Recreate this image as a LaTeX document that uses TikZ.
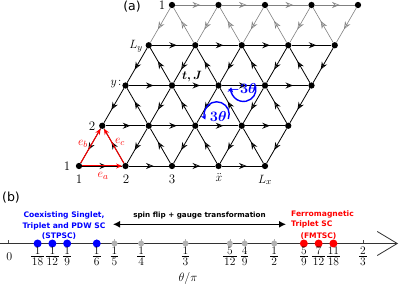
\documentclass[tikz,border=0pt]{standalone}
\usepackage{fontspec}
\usepackage{amsmath,bm}
\usetikzlibrary{arrows.meta,decorations.markings}
\newfontfamily\djs{DejaVu Sans}
\newcommand\fr[2]{{\renewcommand\arraystretch{0}\begin{tabular}{@{\hspace{1pt}}c@{\hspace{1pt}}}\rule[-1.3pt]{0pt}{7.6pt}#1\\\hline\rule{0pt}{9.1pt}#2\end{tabular}}}
\tikzset{
  ldot/.style={circle,fill=black,inner sep=0pt,minimum size=6.3pt},
  midarr/.style={postaction={decorate},decoration={markings,mark=at position 0.62 with {\arrow{Stealth[open,length=7.5pt,width=6pt,inset=2.5pt]}}}},
  latedge/.style={draw=black,line width=0.8pt,midarr},
  topedge/.style={draw=black!50,line width=0.6pt,midarr},
  redvec/.style={draw=red,line width=1pt,-{Stealth[length=6pt,width=5pt]}},
  lbl/.style={font=\fontsize{13}{15}\selectfont,inner sep=0pt},
  redlbl/.style={text=red,font=\fontsize{13}{15}\selectfont,inner sep=0pt},
  fluxarc/.style={draw=blue,line width=1.4pt,-{Stealth[length=5pt,width=5.5pt]}},
  fluxlbl/.style={text=blue,font=\fontsize{13.5}{15}\selectfont,inner sep=0pt},
  axisline/.style={draw=black!80,line width=0.8pt,-{Straight Barb[length=20pt,width=24pt,line width=0.8pt]}},
  tickst/.style={draw=black!70,line width=0.7pt},
  pdot/.style={circle,inner sep=0pt,minimum size=8pt},
  gdot/.style={circle,inner sep=0pt,minimum size=6pt,fill=black!30},
  bluetxt/.style={text=blue,font=\djs\bfseries\fontsize{7.6}{9}\selectfont,inner sep=0pt},
  redtxt/.style={text=red,font=\djs\bfseries\fontsize{7.6}{9}\selectfont,inner sep=0pt},
  blktxt/.style={text=black,font=\djs\bfseries\fontsize{7.2}{9}\selectfont,inner sep=0pt},
  dblarr/.style={draw=black,line width=1.3pt,{Latex[length=7pt,width=7pt]}-{Latex[length=7pt,width=7pt]}},
  paneltxt/.style={font=\djs\fontsize{12.5}{14}\selectfont,inner sep=0pt},
  fraclbl/.style={font=\fontsize{11.5}{13}\selectfont,inner sep=0pt,anchor=north}
}
\begin{document}
\begin{tikzpicture}[x=1pt,y=1pt]
\useasboundingbox (0,0) rectangle (399,-288);
% lattice nodes
\foreach \r in {0,...,4}{
  \foreach \c in {0,...,4}{
    \node[ldot] (n-\r-\c) at ({79+23.25*\r+46.5*\c},{-166+40.25*\r}) {};
  }
}
% horizontal edges
\foreach \r in {0,...,3}{
  \foreach \c [evaluate=\c as \cn using int(\c+1)] in {0,...,3}{
    \draw[latedge] (n-\r-\c) -- (n-\r-\cn);
  }
}
\foreach \c [evaluate=\c as \cn using int(\c+1)] in {0,...,3}{
  \draw[topedge] (n-4-\c) -- (n-4-\cn);
}
% "/" edges, pointing down-left
\foreach \r [evaluate=\r as \rn using int(\r+1)] in {0,...,2}{
  \foreach \c in {0,...,4}{
    \draw[latedge] (n-\rn-\c) -- (n-\r-\c);
  }
}
\foreach \c in {0,...,4}{
  \draw[topedge] (n-4-\c) -- (n-3-\c);
}
% "\" edges, pointing up-left
\foreach \r [evaluate=\r as \rn using int(\r+1)] in {0,...,2}{
  \foreach \c [evaluate=\c as \cp using int(\c-1)] in {1,...,4}{
    \draw[latedge] (n-\r-\c) -- (n-\rn-\cp);
  }
}
\foreach \c [evaluate=\c as \cp using int(\c-1)] in {1,...,4}{
  \draw[topedge] (n-3-\c) -- (n-4-\cp);
}
% red unit vectors
\draw[redvec] (n-0-0) -- (n-0-1);
\draw[redvec] (n-0-0) -- (n-1-0);
\draw[redvec] (n-0-1) -- (n-1-0);
\node[redlbl] (ea) at (103,-176) {$e_a$};
\node[redlbl] (eb) at (83,-144) {$e_b$};
\node[redlbl] (ec) at (120,-142) {$e_c$};
% lattice labels
\node[lbl] (b1) at (79,-179) {1};
\node[lbl] (b2) at (126,-179) {2};
\node[lbl] (b3) at (172,-179) {3};
\node[lbl] (bx) at (219,-178) {$\ddot{x}$};
\node[lbl] (bL) at (265,-180) {$L_x$};
\node[lbl] (l1) at (67,-166) {1};
\node[lbl] (l2) at (92,-126) {2};
\node[lbl] (ly) at (116,-84) {$y\!:$};
\node[lbl] (lL) at (136,-46) {$L_y$};
\node[lbl] (l5) at (162,-5) {1};
\node[lbl,font=\fontsize{12}{14}\selectfont] (tJ) at (192,-77) {$\boldsymbol{t,J}$};
% flux arcs
\coordinate (c1) at (216.7,-114.3);
\coordinate (c2) at (243.5,-89);
\draw[fluxarc] (c1) ++(-22:12.5) arc[start angle=-22,end angle=205,radius=12.5];
\draw[fluxarc] (c2) ++(12:12.5) arc[start angle=12,end angle=-188,radius=12.5];
\node[fluxlbl] (f3p) at (218.3,-116.5) {$\boldsymbol{3\theta}$};
\node[fluxlbl] (f3m) at (242,-89.5) {$\boldsymbol{-3\theta}$};
\node[paneltxt] (pa) at (132,-7) {(a)};
% panel b
\node[paneltxt] (pb) at (11,-198) {(b)};
\coordinate (ax0) at (0,-243.5);
\coordinate (ax1) at (398,-243.5);
\draw[axisline] (ax0) -- (ax1);
\draw[tickst] (8,-243.5) -- (8,-240);
\draw[tickst] (363,-243.5) -- (363,-240);
\node[lbl,font=\fontsize{12}{14}\selectfont] (z0) at (9.3,-256.5) {0};
\node[fraclbl] (z23) at (363,-246.5) {\fr{2}{3}};
\foreach \v/\n/\k in {1/18/1,1/12/2,1/9/3,1/6/4}{
  \pgfmathsetmacro\xx{8+532.5*\v/\n}
  \node[pdot,fill=blue] (pd-\k) at (\xx,-243.5) {};
  \node[fraclbl] (pl-\k) at (\xx,-246.5) {\fr{\v}{\n}};
}
\foreach \v/\n/\k in {1/5/5,1/4/6,1/3/7,5/12/8,4/9/9,1/2/10}{
  \pgfmathsetmacro\xx{8+532.5*\v/\n}
  \draw[tickst,draw=black!30] (\xx,-243.5) -- (\xx,-239);
  \node[gdot] (pd-\k) at (\xx,-243.5) {};
  \node[fraclbl] (pl-\k) at (\xx,-246.5) {\fr{\v}{\n}};
}
\foreach \v/\n/\k in {5/9/11,7/12/12,11/18/13}{
  \pgfmathsetmacro\xx{8+532.5*\v/\n}
  \node[pdot,fill=red] (pd-\k) at (\xx,-243.5) {};
  \node[fraclbl] (pl-\k) at (\xx,-246.5) {\fr{\v}{\n}};
}
\node[lbl] (tp) at (188,-279) {$\theta/\pi$};
\node[bluetxt] (s1) at (64,-215) {Coexisting Singlet,};
\node[bluetxt] (s2) at (64,-226) {Triplet and PDW SC};
\node[bluetxt] (s3) at (59,-236.5) {(STPSC)};
\node[redtxt,anchor=west] (r1) at (291,-214) {Ferromagnetic};
\node[redtxt,anchor=west] (r2) at (291,-224.5) {Triplet SC};
\node[redtxt] (r3) at (318.5,-236) {(FMTSC)};
\node[blktxt] (sf) at (199.5,-216) {spin flip + gauge transformation};
\coordinate (al) at (113,-224.3);
\coordinate (ar) at (286,-224.3);
\draw[dblarr] (al) -- (ar);
\end{tikzpicture}
\end{document}
